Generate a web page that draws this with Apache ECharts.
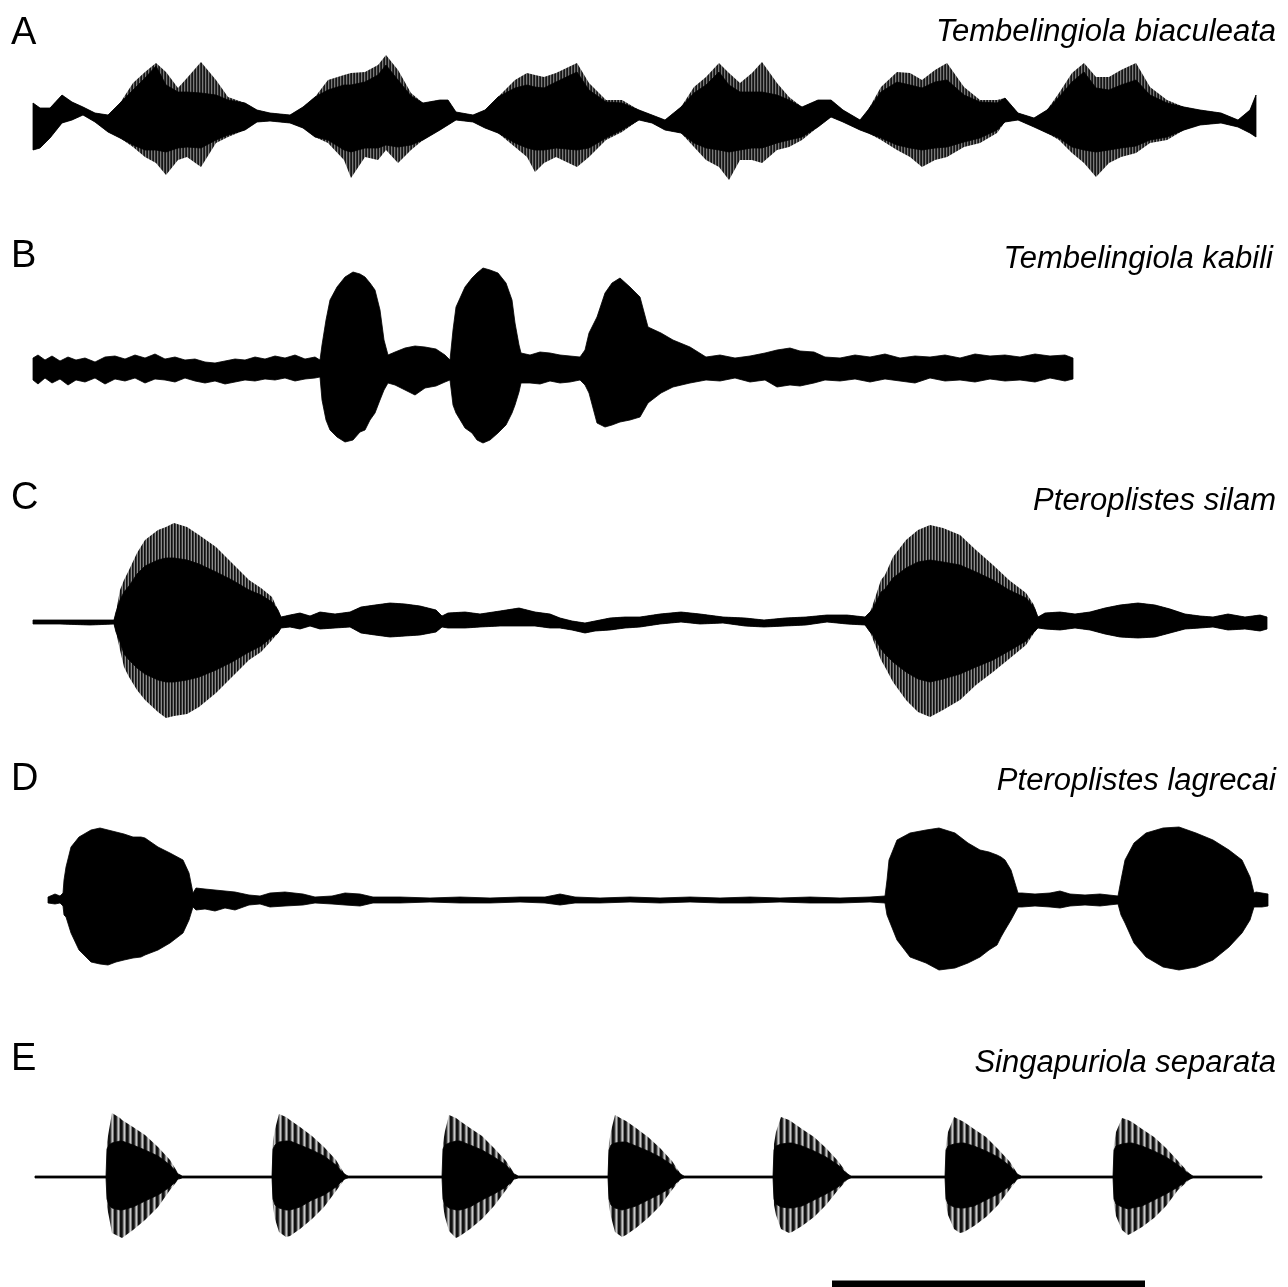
<!DOCTYPE html>
<html>
<head>
<meta charset="utf-8">
<script src="https://cdn.jsdelivr.net/npm/echarts/dist/echarts.min.js"></script>
<style>
html,body{margin:0;padding:0;background:#fff;}
#chart{width:1288px;height:1287px;}
</style>
</head>
<body>
<div id="chart"></div>
<script>
// ---------- labels ----------
const panelLetters = ['A', 'B', 'C', 'D', 'E'];
const speciesNames = ['Tembelingiola biaculeata', 'Tembelingiola kabili', 'Pteroplistes silam', 'Pteroplistes lagrecai', 'Singapuriola separata'];
const scaleBarT = [802, 1115];

// ---------- A: Tembelingiola biaculeata (time, upper / lower envelope, dark core) ----------
const aT = [3,10,20,32,42,53,65,78,90,103,115,126,136,148,157,171,186,198,215,227,240,260,273,285,298,314,321,335,348,356,368,381,393,410,418,426,443,455,468,485,497,505,514,526,547,559,576,592,609,622,635,651,664,676,689,699,710,722,732,747,759,772,788,801,813,830,838,851,867,880,892,905,917,934,950,967,975,988,1004,1017,1029,1042,1054,1066,1079,1091,1106,1120,1137,1154,1170,1191,1208,1220,1226];
const aUp = [17,12,12,25,18,13,7,5,17,37,48,57,48,32,42,58,40,23,17,10,7,5,13,23,40,45,47,48,55,65,50,27,17,20,20,8,5,10,23,40,47,45,43,47,57,37,20,20,10,5,0,13,33,43,57,47,37,47,58,37,23,13,20,20,10,0,10,33,48,47,40,50,57,33,20,20,22,7,2,10,27,47,57,43,43,50,57,33,20,13,10,7,0,10,25];
const aLo = [-30,-28,-18,-3,0,5,-2,-12,-18,-27,-37,-43,-55,-40,-37,-47,-23,-17,-10,-2,-1,-3,-8,-17,-23,-40,-58,-37,-40,-30,-43,-30,-20,-10,-5,0,-2,-8,-13,-27,-37,-52,-43,-37,-47,-37,-20,-12,0,-3,-10,-13,-27,-40,-47,-60,-40,-40,-43,-30,-27,-20,-7,3,-2,-10,-13,-20,-30,-37,-47,-40,-37,-27,-23,-13,-2,0,-7,-13,-20,-33,-43,-57,-43,-37,-33,-23,-20,-10,-5,-3,-7,-13,-17];
const aCoreUp = [null,null,null,null,null,null,null,null,null,30,42,54,35,28,28,27,25,20,null,null,null,null,null,null,30,35,35,38,45,55,40,24,null,null,null,null,null,null,null,32,35,33,32,38,48,30,18,17,null,null,null,null,27,35,48,35,28,28,28,25,20,13,null,null,null,null,null,28,38,35,32,38,40,25,18,17,null,null,null,null,23,38,48,32,30,35,40,25,17,null,null,null,null,null,null];
const aCoreLo = [null,null,null,null,null,null,null,null,null,-25,-30,-30,-32,-28,-27,-28,-20,-15,null,null,null,null,null,null,-20,-30,-32,-28,-28,-25,-27,-25,null,null,null,null,null,null,null,-23,-28,-30,-30,-28,-30,-28,-18,-10,null,null,null,null,-23,-28,-30,-32,-30,-28,-28,-23,-20,-17,null,null,null,null,null,-18,-25,-28,-30,-28,-27,-22,-18,-10,null,null,null,null,-18,-27,-30,-32,-30,-28,-26,-20,-17,null,null,null,null,null,null];

// ---------- B: Tembelingiola kabili ----------
const bT = [3,8,15,22,30,38,46,55,65,75,85,95,105,115,125,135,145,155,165,175,185,195,205,215,225,235,245,255,265,275,285,290,292,296,300,307,315,323,330,335,340,345,350,354,358,365,375,385,395,406,415,420,423,426,435,442,447,453,460,468,476,482,485,489,491,500,510,520,530,540,550,555,559,567,575,582,590,600,610,618,631,643,660,676,690,705,720,735,747,760,770,784,795,810,825,840,855,870,885,900,915,930,945,960,975,990,1005,1020,1035,1043];
const bUp = [12,15,10,14,9,13,10,12,8,13,14,11,15,12,16,11,13,10,11,8,7,9,11,10,13,11,14,12,15,11,13,10,25,50,70,83,93,98,96,93,87,80,60,30,15,18,22,24,23,21,15,10,40,63,83,92,97,102,100,97,87,70,47,25,17,15,18,17,15,14,13,20,37,53,77,87,92,83,73,43,37,30,23,13,15,12,14,17,20,22,19,18,13,12,15,13,16,12,14,13,15,12,16,14,15,13,16,14,15,12];
const bLo = [-10,-14,-8,-13,-9,-15,-10,-12,-8,-14,-9,-11,-8,-13,-9,-10,-12,-8,-11,-13,-11,-14,-12,-10,-11,-9,-10,-8,-11,-9,-8,-7,-30,-50,-60,-67,-72,-70,-62,-60,-50,-43,-30,-20,-13,-15,-20,-25,-18,-16,-12,-10,-35,-43,-58,-63,-70,-73,-70,-63,-55,-43,-35,-22,-13,-13,-14,-11,-13,-12,-10,-15,-23,-53,-57,-55,-52,-50,-47,-33,-23,-17,-13,-10,-11,-8,-12,-10,-17,-15,-16,-13,-10,-11,-9,-12,-9,-11,-13,-8,-11,-10,-12,-9,-11,-10,-12,-8,-11,-9];

// ---------- C: Pteroplistes silam ----------
const cT = [3,30,60,84,86,90,94,99,107,115,128,136,144,157,169,186,202,219,231,242,248,251,260,270,280,290,305,320,331,345,360,375,390,406,412,418,435,450,470,489,505,520,530,542,555,565,580,595,610,630,651,670,693,715,734,755,776,797,817,835,840,842,851,855,863,876,888,900,913,930,946,963,979,996,1004,1008,1015,1030,1045,1060,1075,1090,1108,1125,1140,1155,1170,1183,1198,1215,1230,1237];
const cUp = [2,2,2,2,10,32,42,52,69,82,92,95,99,95,87,75,59,42,34,25,12,5,7,9,6,10,8,10,15,17,19,18,16,12,6,9,10,8,11,14,10,8,4,1,-1,1,4,5,5,8,10,8,5,4,2,4,5,7,7,5,10,15,42,47,65,82,92,97,94,87,72,57,42,29,17,5,9,10,8,10,14,17,19,17,13,8,6,5,8,5,7,5];
const cLo = [-2,-2,-3,-2,-10,-28,-45,-55,-68,-78,-90,-96,-94,-92,-85,-71,-55,-38,-30,-18,-11,-6,-5,-7,-4,-7,-6,-5,-11,-13,-15,-14,-13,-10,-5,-6,-6,-5,-4,-4,-4,-6,-6,-8,-11,-9,-8,-6,-5,-2,0,-2,-1,-4,-5,-4,-3,0,-2,-3,-10,-15,-38,-45,-60,-78,-90,-95,-88,-78,-63,-50,-37,-23,-11,-6,-7,-8,-6,-8,-12,-15,-16,-15,-11,-7,-6,-5,-8,-7,-9,-7];
const cCoreUp = [null,null,null,null,null,22,30,36,48,56,62,64,64,62,58,50,42,32,27,20,null,null,null,null,null,null,null,null,null,null,null,null,null,null,null,null,null,null,null,null,null,null,null,null,null,null,null,null,null,null,null,null,null,null,null,null,null,null,null,null,null,12,30,33,44,54,60,62,60,57,50,42,32,24,15,null,null,null,null,null,null,null,null,null,null,null,null,null,null,null,null,null];
const cCoreLo = [null,null,null,null,null,-20,-32,-38,-46,-52,-58,-60,-60,-58,-55,-48,-40,-30,-24,-15,null,null,null,null,null,null,null,null,null,null,null,null,null,null,null,null,null,null,null,null,null,null,null,null,null,null,null,null,null,null,null,null,null,null,null,null,null,null,null,null,null,-12,-27,-32,-40,-50,-57,-60,-57,-52,-45,-38,-29,-19,-10,null,null,null,null,null,null,null,null,null,null,null,null,null,null,null,null,null];

// ---------- D: Pteroplistes lagrecai ----------
const dT = [18,25,30,33,34,36,41,49,61,70,78,86,94,103,111,115,128,140,153,159,163,166,175,185,195,205,219,230,240,255,273,285,302,315,330,343,370,400,430,460,490,515,530,545,570,600,630,660,690,720,750,780,810,840,855,857,859,867,880,896,909,925,938,950,959,967,971,975,981,988,992,1005,1020,1030,1040,1055,1070,1088,1091,1095,1104,1116,1133,1149,1166,1183,1199,1212,1220,1224,1226,1232,1238];
const dUp = [3,6,4,7,20,33,53,63,70,72,70,68,66,63,63,62,53,47,40,27,7,12,11,10,9,8,5,4,7,8,6,3,4,7,6,3,3,2,3,2,3,3,6,3,2,3,2,3,2,3,2,3,2,3,4,20,40,60,67,70,72,67,57,50,48,45,43,40,30,7,7,6,7,9,6,5,6,4,20,40,57,67,72,73,67,60,50,40,23,7,8,7,6];
const dLo = [-3,-4,-3,-6,-15,-17,-33,-50,-62,-64,-65,-62,-60,-58,-57,-55,-50,-43,-33,-20,-7,-10,-9,-11,-8,-10,-5,-4,-7,-6,-5,-3,-4,-5,-6,-3,-3,-2,-3,-3,-2,-3,-5,-3,-3,-2,-3,-2,-3,-3,-2,-3,-3,-2,-3,-15,-20,-40,-57,-63,-70,-68,-63,-57,-50,-45,-37,-30,-20,-7,-7,-6,-7,-8,-6,-5,-6,-4,-15,-23,-43,-57,-67,-70,-67,-60,-47,-33,-20,-7,-7,-7,-6];

// ---------- E: Singapuriola separata ----------
const eT = [5,76,77,79,82,90,92,103,115,128,140,148,152,242,243,245,249,256,260,270,282,294,306,314,318,412,413,415,419,426,430,440,452,464,476,484,488,578,579,581,585,592,596,606,618,630,642,650,654,743,744,746,751,759,762,772,784,796,808,817,821,915,916,918,924,930,934,944,956,968,980,987,991,1083,1084,1086,1092,1098,1102,1112,1124,1136,1148,1159,1163,1232];
const eUp = [1,1,35,47,64,59,57,50,42,30,17,4,1,1,36,48,63,60,57,50,41,30,17,4,1,1,34,46,62,59,56,49,41,29,16,4,1,1,34,46,62,58,56,49,40,29,16,4,1,1,33,45,60,57,55,48,40,29,16,4,1,1,33,45,60,57,55,48,40,28,15,4,1,1,33,45,59,57,55,48,40,29,16,4,1,1];
const eLo = [-1,-1,-30,-40,-56,-60,-61,-53,-43,-30,-13,-3,-1,-1,-30,-42,-55,-60,-59,-52,-42,-30,-14,-3,-1,-1,-29,-40,-54,-61,-59,-52,-42,-29,-13,-3,-1,-1,-29,-40,-55,-60,-58,-51,-41,-29,-13,-3,-1,-1,-28,-38,-52,-56,-55,-49,-40,-28,-13,-3,-1,-1,-28,-38,-52,-56,-55,-49,-40,-28,-12,-3,-1,-1,-28,-39,-53,-58,-56,-50,-41,-29,-13,-3,-1,-1];
const eCoreUp = [null,null,28,32,34,36,36,32,27,21,12,3,null,null,28,32,35,36,36,32,27,21,12,3,null,null,28,32,34,36,36,32,27,20,12,3,null,null,27,32,34,35,35,31,26,20,12,3,null,null,27,31,33,34,34,31,26,20,12,3,null,null,27,31,33,34,34,31,26,20,11,3,null,null,27,31,33,34,34,31,26,20,12,3,null,null];
const eCoreLo = [null,null,-22,-28,-31,-33,-33,-30,-24,-18,-10,-2,null,null,-22,-28,-31,-33,-33,-30,-23,-18,-10,-2,null,null,-22,-28,-31,-33,-33,-30,-23,-17,-10,-2,null,null,-22,-28,-31,-33,-32,-29,-23,-17,-10,-2,null,null,-22,-27,-30,-31,-31,-29,-23,-17,-10,-2,null,null,-22,-27,-30,-31,-31,-29,-23,-17,-9,-2,null,null,-22,-27,-30,-32,-31,-29,-23,-17,-10,-2,null,null];

// ---------- styling helpers ----------
function stripes(cols) {
  const c = document.createElement('canvas');
  c.width = cols.length; c.height = 4;
  const g = c.getContext('2d');
  cols.forEach(function (col, i) { g.fillStyle = col; g.fillRect(i, 0, 1, 4); });
  return { image: c, repeat: 'repeat' };
}

const panels = [
  { t: aT, up: aUp, lo: aLo, cu: aCoreUp, cl: aCoreLo, fill: stripes(['#151515', '#7a7a7a', '#303030']), center: 120 },
  { t: bT, up: bUp, lo: bLo, cu: null, cl: null, fill: '#000', center: 370 },
  { t: cT, up: cUp, lo: cLo, cu: cCoreUp, cl: cCoreLo, fill: stripes(['#111', '#3a3a3a', '#8c8c8c']), center: 622 },
  { t: dT, up: dUp, lo: dLo, cu: null, cl: null, fill: '#000', center: 900 },
  { t: eT, up: eUp, lo: eLo, cu: eCoreUp, cl: eCoreLo, fill: stripes(['#111', '#111', '#333', '#8a8a8a', '#c8c8c8', '#777']), center: 1177 }
];
const letterY = [34, 257, 499, 780, 1060];
const titleY = [32, 259, 501, 781, 1063];
const titleRight = [1276, 1273, 1276, 1276, 1276];

function panelRender(p) {
  return function (params, api) {
    const upPts = [], loPts = [], cuPts = [], clPts = [];
    for (let i = 0; i < p.t.length; i++) {
      upPts.push(api.coord([p.t[i], p.up[i]]));
      loPts.push(api.coord([p.t[i], p.lo[i]]));
      if (p.cu) {
        cuPts.push(api.coord([p.t[i], p.cu[i] == null ? p.up[i] : p.cu[i]]));
        clPts.push(api.coord([p.t[i], p.cl[i] == null ? p.lo[i] : p.cl[i]]));
      }
    }
    const children = [{
      type: 'polygon',
      shape: { points: upPts.concat(loPts.reverse()) },
      style: p.cu ? { fill: p.fill } : { fill: p.fill, stroke: '#000', lineWidth: 0.8 }
    }];
    if (p.cu) {
      children.push({
        type: 'polygon',
        shape: { points: cuPts.concat(clPts.reverse()) },
        style: { fill: '#000', stroke: '#000', lineWidth: 0.8 }
      });
    }
    return { type: 'group', children: children };
  };
}

const grids = [], xAxes = [], yAxes = [], series = [];
panels.forEach(function (p, i) {
  grids.push({ left: 30, right: 0, top: p.center - 110, height: 220, containLabel: false });
  xAxes.push({ type: 'value', gridIndex: i, min: 0, max: 1258, show: false });
  yAxes.push({ type: 'value', gridIndex: i, min: -110, max: 110, show: false });
  series.push({
    type: 'custom', coordinateSystem: 'cartesian2d', xAxisIndex: i, yAxisIndex: i,
    data: [[0, 0]], renderItem: panelRender(p), silent: true, clip: false
  });
});
series.push({
  type: 'line', xAxisIndex: 4, yAxisIndex: 4,
  data: scaleBarT.map(function (t) { return [t, -107]; }),
  symbol: 'none', lineStyle: { color: '#000', width: 7, cap: 'butt' }, silent: true
});

const graphics = [];
panelLetters.forEach(function (l, i) {
  graphics.push({
    type: 'text', x: 11, y: letterY[i], silent: true,
    style: { text: l, font: '38px "Liberation Sans", Arial, sans-serif', fill: '#000',
      align: 'left', verticalAlign: 'middle', textAlign: 'left', textVerticalAlign: 'middle' }
  });
  graphics.push({
    type: 'text', x: titleRight[i], y: titleY[i], silent: true,
    style: { text: speciesNames[i], font: 'italic 31px "Liberation Sans", Arial, sans-serif', fill: '#000',
      align: 'right', verticalAlign: 'middle', textAlign: 'right', textVerticalAlign: 'middle' }
  });
});

const chart = echarts.init(document.getElementById('chart'), null, { renderer: 'canvas' });
chart.setOption({
  backgroundColor: '#fff',
  animation: false,
  grid: grids,
  xAxis: xAxes,
  yAxis: yAxes,
  series: series,
  graphic: graphics
});
</script>
</body>
</html>
